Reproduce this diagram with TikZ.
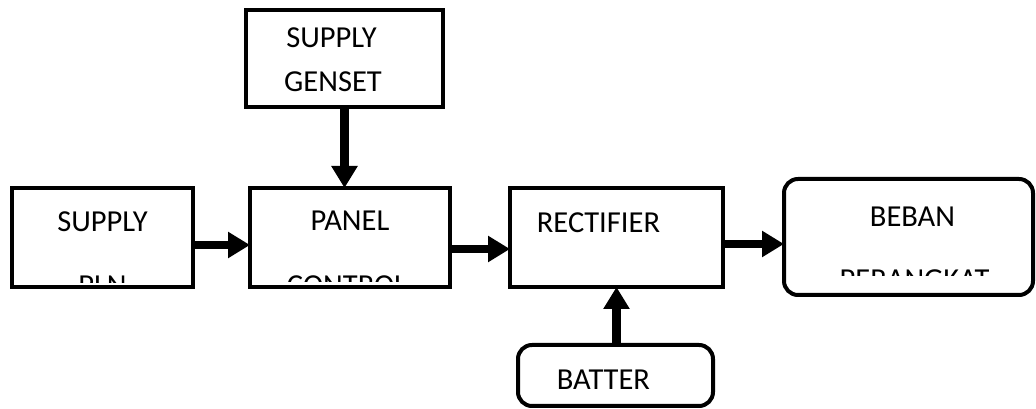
\documentclass[tikz,border=0pt]{standalone}
\usepackage{fontspec}
\setmainfont{Carlito}
\usetikzlibrary{arrows.meta}
\newcommand{\lblfont}{\fontsize{30.5}{36}\selectfont}
\tikzset{
  box/.style={draw, line width=4pt, inner sep=0pt, outer sep=0pt},
  rbox/.style={box, rounded corners=14pt},
  lbl/.style={font=\lblfont, anchor=base, inner sep=0pt},
  arr/.style={line width=8.5pt, -{Triangle[length=22pt,width=25pt]}}
}
\begin{document}
\begin{tikzpicture}[x=1pt,y=1pt]
\useasboundingbox (0,0) rectangle (1036,409);
% boxes
\node[box, minimum width=181pt, minimum height=99pt] (pln) at (102.5,171.5) {};
\node[box, minimum width=200pt, minimum height=99pt] (panel) at (350,171.5) {};
\node[box, minimum width=213pt, minimum height=99pt] (rect) at (616.5,171.5) {};
\node[rbox, minimum width=249pt, minimum height=116pt] (beban) at (908.5,172) {};
\node[box, minimum width=197pt, minimum height=97pt] (genset) at (344.5,350.5) {};
\node[rbox, minimum width=195pt, minimum height=61pt] (batt) at (615.5,33.5) {};
% labels
\node[lbl] (t1) at (102.5,177) {SUPPLY};
\begin{scope}
  \clip (16,126) rectangle (190,218);
  \node[lbl] (t2) at (102.5,113) {PLN};
\end{scope}
\node[lbl] (t3) at (350,178) {PANEL};
\begin{scope}
  \clip (254,127) rectangle (446,218);
  \node[lbl] (t4) at (347,113) {CONTROL};
\end{scope}
\node[lbl] (t5) at (598.5,176) {RECTIFIER};
\node[lbl] (t6) at (912.5,182) {BEBAN};
\begin{scope}
  \clip (790,133) rectangle (1028,225);
  \node[lbl] (t7) at (914.5,119) {PERANGKAT};
\end{scope}
\node[lbl] (t8) at (331.5,361) {SUPPLY};
\node[lbl] (t9) at (333,317) {GENSET};
\node[lbl] (t10) at (603.5,19) {BATTER};
% connectors
\draw[arr] ([yshift=-7.5pt]pln.east) -- ([yshift=-7.5pt]panel.west);
\draw[arr] ([yshift=-11.5pt]panel.east) -- ([yshift=-11.5pt]rect.west);
\draw[arr] ([yshift=-6.5pt]rect.east) -- ([yshift=-6.5pt]rect.east -| beban.west);
\draw[arr] (genset.south) -- (genset.south |- panel.north);
\draw[arr] (rect.south |- batt.north) -- (rect.south);
\end{tikzpicture}
\end{document}
